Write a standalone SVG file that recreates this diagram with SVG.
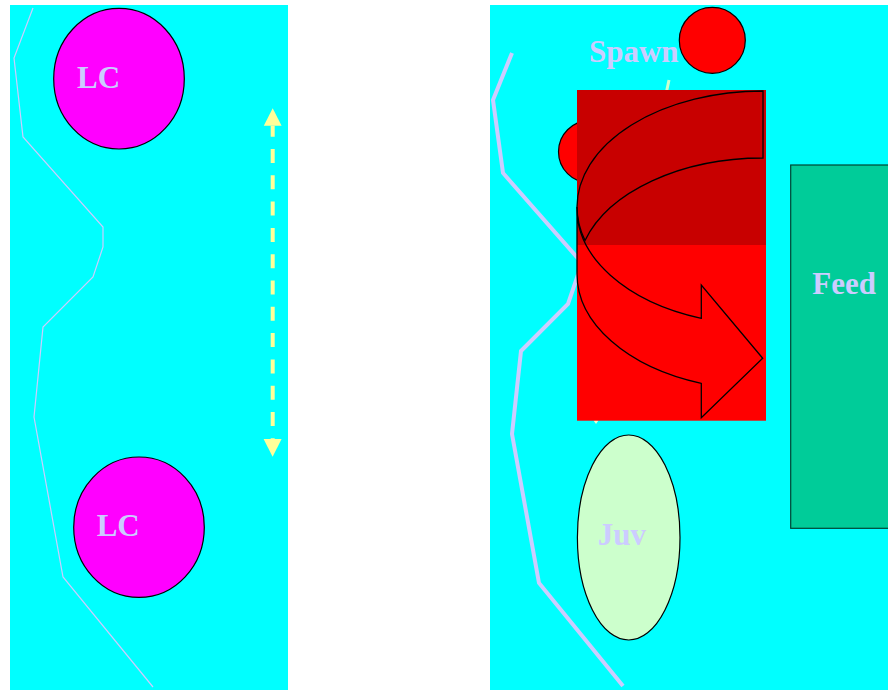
<svg xmlns="http://www.w3.org/2000/svg" width="888" height="691" viewBox="0 0 888 691">
  <style>
    .panel { fill: #00ffff; }
    .label { font-family: "Liberation Serif", "Times New Roman", serif; font-weight: bold; font-size: 31px; fill: #ccccff; }
    .outline { fill: none; stroke: #000000; stroke-width: 1.3; stroke-linejoin: miter; }
    .shore { fill: none; stroke: #ccccff; stroke-linejoin: miter; }
  </style>
  <rect width="888" height="691" fill="#ffffff"/>

  <!-- left panel -->
  <rect class="panel" x="10" y="5" width="278" height="685"/>
  <polyline class="shore" stroke-width="1.2" points="33,8 14,58 23,137 103,227 103,247 93,277 43,327 34,417 63,577 153,687"/>

  <!-- right panel -->
  <rect class="panel" x="490" y="5" width="398" height="685"/>
  <polyline class="shore" stroke-width="4" points="512,53 493,100 503,173 582,263 568,304 521,351 512,434 539,583 623,686"/>

  <g id="connectors">
    <!-- dashed two-way movement arrow -->
    <line x1="272.7" y1="125.7" x2="272.7" y2="439" stroke="#ffff99" stroke-width="4" stroke-dasharray="14 12.3" stroke-dashoffset="3"/>
    <polygon points="272.7,108.3 263.8,125.7 281.6,125.7" fill="#ffff99"/>
    <polygon points="263.6,439 281.6,439 272.6,456.7" fill="#ffff99"/>
    <!-- spawn to juvenile link, mostly behind the block -->
    <line x1="669" y1="80" x2="596" y2="421" stroke="#ccffcc" stroke-width="3"/>
    <polygon points="593.5,420.5 598.5,420.5 596,424" fill="#eeffcc"/>
  </g>

  <g id="lc-top">
    <ellipse cx="119" cy="78.7" rx="65.3" ry="70.3" fill="#ff00ff" stroke="#000000" stroke-width="1.2"/>
    <text class="label" x="77" y="87.5">LC</text>
  </g>
  <g id="lc-bottom">
    <ellipse cx="139" cy="527.2" rx="65.3" ry="70.2" fill="#ff00ff" stroke="#000000" stroke-width="1.2"/>
    <text class="label" x="96.7" y="536">LC</text>
  </g>

  <g id="spawn">
    <circle cx="712.3" cy="40.3" r="33" fill="#ff0000" stroke="#000000" stroke-width="1.2"/>
    <circle cx="589.5" cy="151.7" r="31" fill="#ff0000" stroke="#000000" stroke-width="1.2"/>
    <text class="label" x="589" y="62.3">Spawn</text>
  </g>

  <g id="migration-block">
    <rect x="577" y="90" width="189" height="155" fill="#c80000"/>
    <rect x="577" y="245" width="189" height="175.7" fill="#ff0000"/>
    <!-- curved right arrow: back band -->
    <path class="outline" d="M763,91 A186,116 0 0 0 577,207 A186,116 0 0 0 585,240.5 A186,116 0 0 1 763,158 Z"/>
    <!-- curved right arrow: front band with head -->
    <path class="outline" d="M577,207 L577,274 A186,116 0 0 0 701.3,383.4 L701.3,417.7 L762.7,358.3 L701.3,285 L701.3,318.3 A186,116 0 0 1 577,207 Z"/>
  </g>

  <g id="feed">
    <rect x="790.7" y="165" width="120" height="363.3" fill="#00cc99" stroke="#004433" stroke-width="1.2"/>
    <text class="label" x="812.3" y="294">Feed</text>
  </g>

  <g id="juv">
    <ellipse cx="628.7" cy="537.5" rx="51.3" ry="102.5" fill="#ccffcc" stroke="#000000" stroke-width="1.2"/>
    <text class="label" x="597.7" y="545">Juv</text>
  </g>
</svg>
